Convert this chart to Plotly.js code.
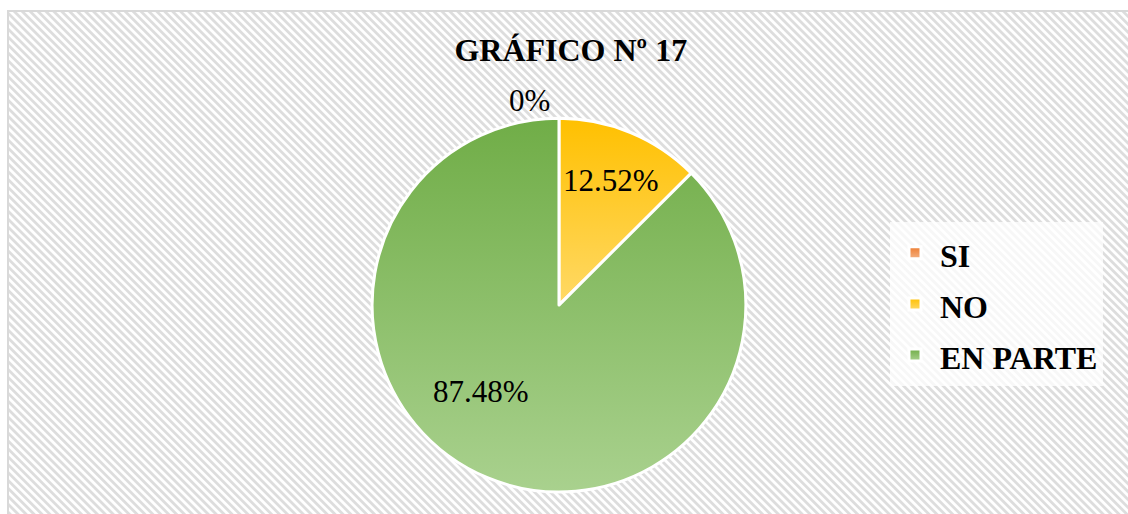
<!DOCTYPE html>
<html><head><meta charset="utf-8">
<script src="https://cdn.plot.ly/plotly-3.0.1.min.js"></script>
<style>
html,body{margin:0;padding:0;background:#fff;}
#wrap{position:relative;width:1128px;height:514px;overflow:hidden;background:#fff;}
#bg{position:absolute;left:7px;top:10px;width:1140px;height:530px;border-left:2px solid #d9d9d9;border-top:2px solid #d9d9d9;
background:repeating-linear-gradient(45deg,#ffffff 0px,#ffffff 1.8px,#dddddd 2.8px,#dddddd 4.6px,#ffffff 5.6px);}
#chart{position:absolute;left:0;top:0;width:1128px;height:514px;}
</style></head>
<body>
<div id="wrap"><div id="bg"></div><div id="chart"></div></div>
<script>
const categories = ['SI', 'NO', 'EN PARTE'];
const values = [0, 12.52, 87.48];
const labelsText = values.map(v => v + '%');
const colorsTop = ['#ED7D31', '#FFC000', '#70AD47'];
const colorsBottom = ['#F4B183', '#FFD966', '#A9D18E'];
const colorsMid = ['#F19759', '#FFCC33', '#8DBF6B'];

const serif = 'Liberation Serif, Times New Roman, serif';

const trace = {
  type: 'pie',
  labels: categories.map(c => '<span style="font-size:32px">' + c + '</span>'),
  values: values,
  text: labelsText,
  textinfo: 'text',
  textposition: ['none', 'inside', 'none'],
  insidetextorientation: 'horizontal',
  sort: false,
  direction: 'clockwise',
  rotation: 0,
  marker: {colors: colorsMid, line: {color: '#ffffff', width: 3}},
  textfont: {family: serif, size: 31, color: '#000'},
  insidetextfont: {family: serif, size: 31, color: '#000'},
  domain: {x: [0.3298, 0.6613], y: [0.0428, 0.770]},
  hoverinfo: 'none',
  showlegend: true
};

const layout = {
  width: 1128, height: 514,
  margin: {l: 0, r: 0, t: 0, b: 0},
  font: {family: serif, color: '#000'},
  paper_bgcolor: 'rgba(0,0,0,0)',
  plot_bgcolor: 'rgba(0,0,0,0)',
  title: {text: '<b>GRÁFICO Nº 17</b>', font: {family: serif, size: 32, color: '#000'},
          x: 0.506, xanchor: 'center', xref: 'container', y: 0.903, yanchor: 'middle', yref: 'container'},
  legend: {x: 0.789, xanchor: 'left', y: 0.408, yanchor: 'middle',
           itemwidth: 40,
           bgcolor: 'rgba(255,255,255,0.75)', borderwidth: 0,
           font: {family: serif, size: 37, color: '#000', weight: 'bold'}},
  annotations: [
    {text: labelsText[0], xref: 'paper', yref: 'paper', x: 0.469, y: 0.805, xanchor: 'center', yanchor: 'middle',
     showarrow: false, font: {family: serif, size: 31, color: '#000'}},
    {text: labelsText[2], xref: 'paper', yref: 'paper', x: 0.4265, y: 0.239, xanchor: 'center', yanchor: 'middle',
     showarrow: false, font: {family: serif, size: 31, color: '#000'}}
  ],
  showlegend: true
};

Plotly.newPlot('chart', [trace], layout, {displayModeBar: false, staticPlot: true}).then(function(gd){
  const svg = gd.querySelector('svg.main-svg');
  let defs = svg.querySelector('defs');
  const ns = 'http://www.w3.org/2000/svg';
  categories.forEach(function(c, i){
    const g = document.createElementNS(ns, 'linearGradient');
    g.setAttribute('id', 'grad' + i);
    g.setAttribute('x1', '0'); g.setAttribute('y1', '0');
    g.setAttribute('x2', '0'); g.setAttribute('y2', '1');
    const s1 = document.createElementNS(ns, 'stop');
    s1.setAttribute('offset', '0'); s1.setAttribute('stop-color', colorsTop[i]);
    const s2 = document.createElementNS(ns, 'stop');
    s2.setAttribute('offset', '1'); s2.setAttribute('stop-color', colorsBottom[i]);
    g.appendChild(s1); g.appendChild(s2);
    defs.appendChild(g);
  });
  gd.querySelectorAll('g.slice').forEach(function(s, i){
    const p = s.querySelector('path.surface');
    if (p) p.style.fill = 'url(#grad' + i + ')';
  });
  gd.querySelectorAll('g.legend g.traces').forEach(function(t, i){
    const p = t.querySelector('path.legendpie');
    if (p) p.style.fill = 'url(#grad' + i + ')';
  });
});
</script>
</body></html>
